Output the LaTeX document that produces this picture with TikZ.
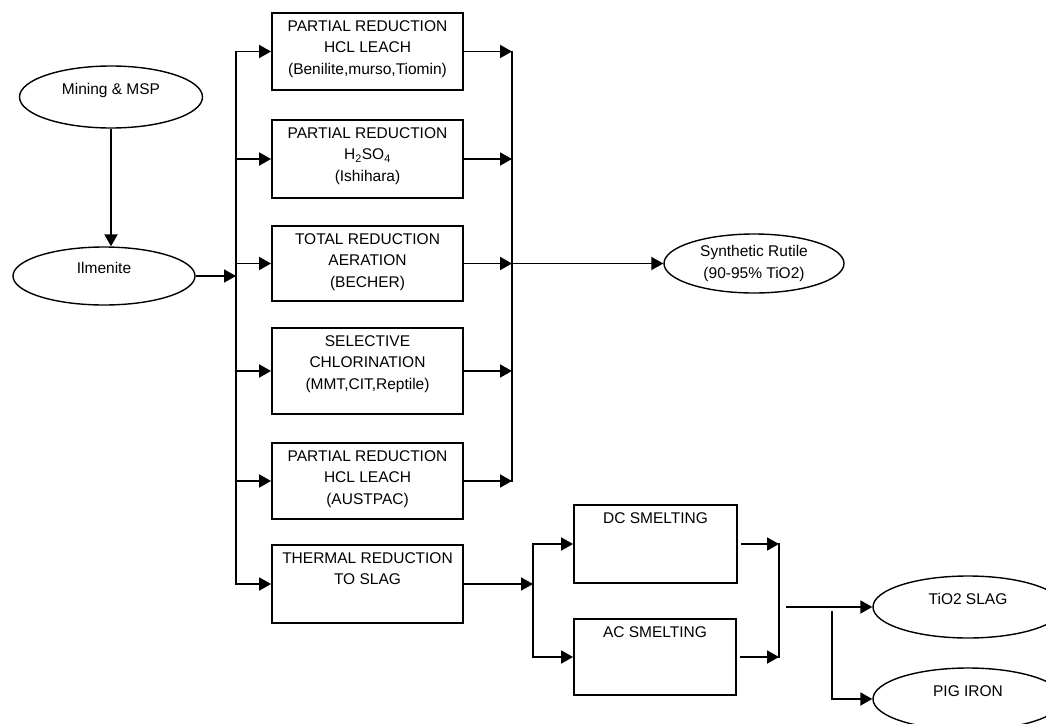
\documentclass[tikz,border=0pt]{standalone}
\usepackage{fontspec}
\setmainfont{Liberation Sans}
\usetikzlibrary{arrows.meta,shapes.geometric}

\newcommand{\flowfont}{\fontsize{15.5}{21.5}\selectfont}

\begin{document}
\begin{tikzpicture}[x=1pt,y=-1pt,font=\flowfont,line width=1.9pt,
  >={Triangle[length=12pt,width=13pt]},
  procbox/.style={shape=rectangle,draw,minimum width=191pt,inner sep=0pt},
  boxtext/.style={anchor=north,align=center,inner sep=0pt,yshift=-7.5pt,font=\flowfont},
  oval/.style={shape=ellipse,draw,line width=1.4pt,inner sep=0pt,minimum width=182pt,minimum height=60pt},
  uptext/.style={text height=11pt,text depth=17pt},
  bus/.style={line cap=rect}]
\useasboundingbox (0,0) rectangle (1046,723);
\clip (0,0) rectangle (1046,723);
% feed and products
\node(mining)[oval,uptext,minimum width=183pt,minimum height=62pt] at (111,97){Mining \& MSP};
\node(ilm)[oval,uptext,minimum height=58pt] at (104,276){Ilmenite};
\node(rutile)[oval,align=center,minimum width=180pt,minimum height=59pt] at (754,263.5){Synthetic Rutile\\(90-95\% TiO2)};
\node(slag)[oval,uptext,minimum width=190pt,minimum height=62pt] at (968,607){TiO2 SLAG};
\node(pig)[oval,uptext,minimum width=190pt,minimum height=62pt] at (968,699){PIG IRON};
% process routes
\node(b1)[procbox,minimum height=77pt,label={[boxtext]north:{PARTIAL REDUCTION\\HCL LEACH\\(Benilite,murso,Tiomin)}}] at (367.5,51.5){};
\node(b2)[procbox,minimum height=78pt,label={[boxtext]north:{PARTIAL REDUCTION\\H\textsubscript{2}SO\textsubscript{4}\\(Ishihara)}}] at (367.5,159){};
\node(b3)[procbox,minimum height=75pt,label={[boxtext]north:{TOTAL REDUCTION\\AERATION\\(BECHER)}}] at (367.5,263.5){};
\node(b4)[procbox,minimum height=86pt,label={[boxtext]north:{SELECTIVE\\CHLORINATION\\(MMT,CIT,Reptile)}}] at (367.5,371){};
\node(b5)[procbox,minimum height=76pt,label={[boxtext]north:{PARTIAL REDUCTION\\HCL LEACH\\(AUSTPAC)}}] at (367.5,481){};
\node(b6)[procbox,minimum height=78pt,label={[boxtext]north:{THERMAL REDUCTION\\TO SLAG}}] at (367.5,584){};
\node(dc)[procbox,minimum width=163pt,minimum height=78pt,label={[boxtext]north:{DC SMELTING}}] at (655.5,544){};
\node(ac)[procbox,minimum width=162pt,minimum height=76pt,label={[boxtext]north:{AC SMELTING}}] at (655,657){};
% bus lines
\coordinate(lbus) at (236,0);
\coordinate(rbus) at (512,0);
\coordinate(sbus) at (533,0);
\coordinate(mbus) at (779,0);
\coordinate(split) at (786,607);
\coordinate(branch) at (832,611);
\draw[->] (mining)--(mining|-ilm.north);
\draw[->] (ilm.east)--(ilm.east-|lbus);
\draw[bus] (lbus|-b1.west)--(lbus|-b6.west);
\foreach \bx in {b1,b2,b3,b4,b5,b6} \draw[->] (lbus|-\bx.west)--(\bx.west);
\draw[bus] (rbus|-b1.east)--(rbus|-b5.east);
\foreach \bx in {b1,b2,b3,b4,b5} \draw[->] (\bx.east)--(rbus|-\bx.east);
\draw[->] (rbus|-b3.east)--(rutile.west);
\draw[->] (b6.east)--(sbus|-b6.east);
\draw[bus] (sbus|-dc.west)--(sbus|-ac.west);
\draw[->] (sbus|-dc.west)--(dc.west);
\draw[->] (sbus|-ac.west)--(ac.west);
\draw[->,shorten <=3pt] (dc.east)--(mbus|-dc.east);
\draw[->,shorten <=3pt] (ac.east)--(mbus|-ac.east);
\draw[bus] (mbus|-dc.east)--(mbus|-ac.east);
\draw[->] (split)--(slag.west);
\draw[->] (branch)|-(pig.west);
\end{tikzpicture}
\end{document}
